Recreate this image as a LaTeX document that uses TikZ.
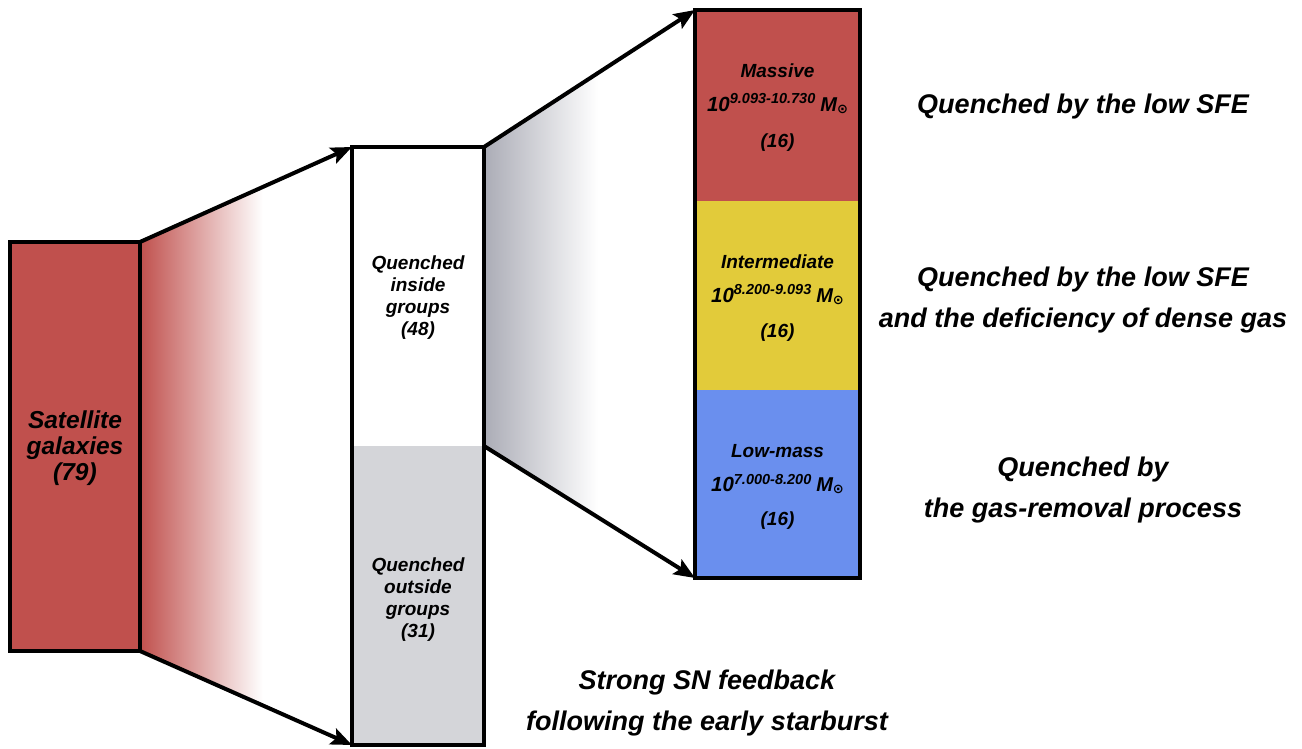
\documentclass[tikz,border=0pt]{standalone}
\usepackage{fontspec}
\setmainfont{Liberation Sans}
\newfontfamily\dejavufont{DejaVu Sans}
\usetikzlibrary{arrows.meta}
\definecolor{satred}{HTML}{C0504D}
\definecolor{midyel}{HTML}{E2CB3A}
\definecolor{lowblue}{HTML}{6A8FEE}
\definecolor{outgray}{HTML}{D4D5D9}
\definecolor{fadegray}{HTML}{ABACB6}
\pgfdeclarehorizontalshading{redfade}{100bp}{color(0bp)=(satred); color(25bp)=(satred); color(54bp)=(white); color(100bp)=(white)}
\pgfdeclarehorizontalshading{grayfade}{100bp}{color(0bp)=(fadegray); color(25bp)=(fadegray); color(52bp)=(white); color(100bp)=(white)}
\newcommand{\mysun}{{\fontsize{20}{20}\selectfont M}\raisebox{-2pt}{\dejavufont\fontsize{13}{13}\selectfont ⊙}}
\newcommand{\mrange}[1]{{\fontsize{20.5}{20.5}\selectfont 10}\raisebox{7.5pt}{\fontsize{14.5}{14.5}\selectfont #1}\hspace{5pt}\mysun}
\begin{document}
\begin{tikzpicture}[x=1pt,y=-1pt,
  outline/.style={draw=black, line width=4pt},
  boxfill/.style={inner sep=0pt, outer sep=0pt, draw=none},
  conn/.style={line width=4pt, -{Stealth[length=21pt,width=17pt,inset=4pt]}},
  midtext/.style={align=center, font=\bfseries\itshape\fontsize{19}{22}\selectfont},
  sectext/.style={align=center, font=\bfseries\itshape\fontsize{19}{19}\selectfont},
  bigtext/.style={align=center, font=\bfseries\itshape\fontsize{27}{41}\selectfont},
  sattext/.style={align=center, font=\bfseries\itshape\fontsize{24.5}{26}\selectfont}]
\useasboundingbox (0,0) rectangle (1302,749);

% boxes (fills)
\node[boxfill, fill=satred, minimum width=130pt, minimum height=409pt] (sat) at (75,446.5) {};
\node[boxfill, fill=white, minimum width=132pt, minimum height=299pt] (inside) at (418,296.5) {};
\node[boxfill, fill=outgray, minimum width=132pt, minimum height=299pt] (outside) at (418,595.5) {};
\node[boxfill, fill=satred, minimum width=165pt, minimum height=191.5pt] (massive) at (777.5,105.75) {};
\node[boxfill, fill=midyel, minimum width=165pt, minimum height=188.5pt] (inter) at (777.5,295.75) {};
\node[boxfill, fill=lowblue, minimum width=165pt, minimum height=188pt] (lowmass) at (777.5,484) {};

% gradient funnels
\shade[shading=redfade] (sat.north east) -- (inside.north west) -- (outside.south west) -- (sat.south east) -- cycle;
\shade[shading=grayfade] (inside.north east) -- (massive.north west) -- (lowmass.south west) -- (outside.north east) -- cycle;

% outlines
\draw[outline] (sat.north west) rectangle (sat.south east);
\draw[outline] (inside.north west) rectangle (outside.south east);
\draw[outline] (massive.north west) rectangle (lowmass.south east);

% connectors
\draw[conn] (sat.north east) -- (inside.north west);
\draw[conn] (sat.south east) -- (outside.south west);
\draw[conn] (inside.north east) -- (massive.north west);
\draw[conn] (outside.north east) -- (lowmass.south west);

% texts
\node[sattext] (sattxt) at ([yshift=-2pt]sat.center) {Satellite\\galaxies\\(79)};
\node[midtext] (intxt) at ([yshift=-1.5pt]inside.center) {Quenched\\inside\\groups\\(48)};
\node[midtext] (outtxt) at ([yshift=-4pt]outside.center) {Quenched\\outside\\groups\\(31)};

\node[sectext] (masstxt) at ([yshift=-1.5pt]massive.center) {Massive\\[15pt]\mrange{9.093-10.730}\\[17pt](16)};
\node[sectext] (intertxt) at ([yshift=-2pt]inter.center) {Intermediate\\[15pt]\mrange{8.200-9.093}\\[16pt](16)};
\node[sectext] (lowtxt) at ([yshift=-3pt]lowmass.center) {Low-mass\\[15pt]\mrange{7.000-8.200}\\[15pt](16)};

\node[bigtext] (q1) at (1083,106.5) {Quenched by the low SFE};
\node[bigtext] (q2) at (1083,300.5) {Quenched by the low SFE\\and the deficiency of dense gas};
\node[bigtext] (q3) at (1083,490) {Quenched by\\the gas-removal process};
\node[bigtext] (sn) at (707,703) {Strong SN feedback\\following the early starburst};
\end{tikzpicture}
\end{document}
